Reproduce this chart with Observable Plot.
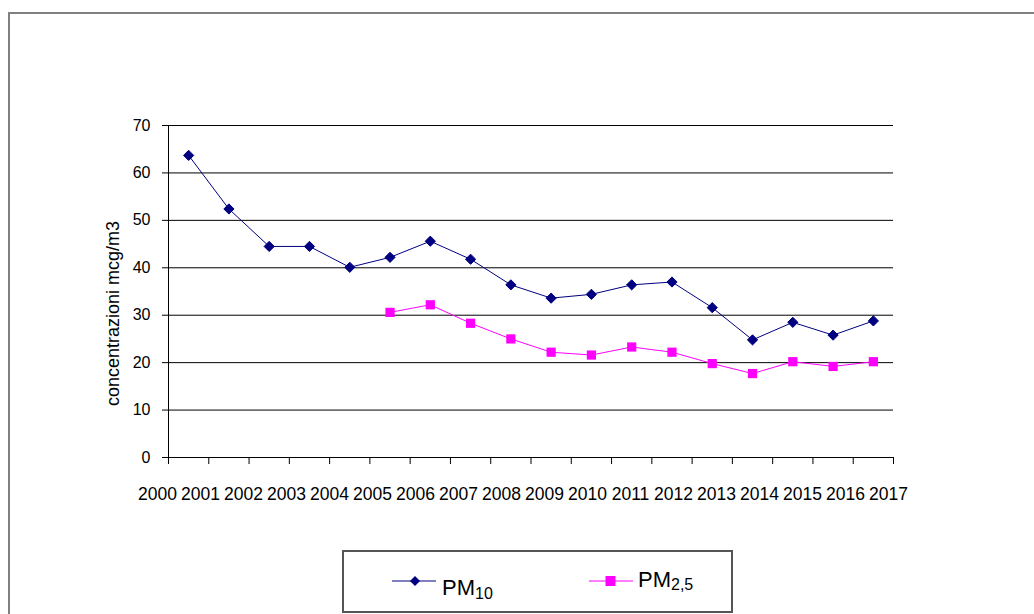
<!DOCTYPE html>
<html><head><meta charset="utf-8">
<script src="https://cdn.jsdelivr.net/npm/d3@7"></script>
<script src="https://cdn.jsdelivr.net/npm/@observablehq/plot@0.6"></script>
<style>
html,body{margin:0;padding:0;background:#fff;}
body{width:1034px;height:614px;overflow:hidden;position:relative;font-family:"Liberation Sans",Arial,sans-serif;}
#frame{position:absolute;left:8px;top:12px;width:1040px;height:620px;border:2px solid #808080;box-sizing:border-box;}
#chart,#xlabels,#legend{position:absolute;left:0;}
#chart{top:0px;}
#xlabels{top:479px;}
#legend{left:342px;top:550px;}
</style></head><body>
<div id="frame"></div>
<div id="chart"></div>
<div id="xlabels"></div>
<div id="legend"></div>
<script>
// ---- data ----
const years = [2000,2001,2002,2003,2004,2005,2006,2007,2008,2009,2010,2011,2012,2013,2014,2015,2016,2017];
const pm10  = [63.7,52.4,44.5,44.5,40.1,42.2,45.6,41.8,36.4,33.6,34.4,36.4,37.0,31.6,24.8,28.5,25.8,28.8];
const pm25  = [null,null,null,null,null,30.6,32.2,28.3,25.0,22.2,21.6,23.3,22.2,19.8,17.7,20.2,19.2,20.2];
const yTicks = [0,10,20,30,40,50,60,70];
const yLabel = "concentrazioni mcg/m3";
const seriesNames = ["PM10","PM2,5"];
const colors = {PM10:"#000080", "PM2,5":"#FF00FF"};

const rows10 = years.map((y,i)=>({year:y, value:pm10[i]}));
const rows25 = years.map((y,i)=>({year:y, value:pm25[i]})).filter(d=>d.value!=null);
const boundaries = years.map(y=>y-0.5).concat([years[years.length-1]+0.5]);

const font = '"Liberation Sans", Arial, sans-serif';

const chart = Plot.plot({
  width:1034, height:530,
  marginLeft:168, marginRight:141, marginTop:125, marginBottom:73,
  style:{background:"none", fontFamily:font, color:"#000"},
  x:{type:"linear", domain:[years[0]-0.5, years[years.length-1]+0.5]},
  y:{domain:[0,70]},
  marks:[
    Plot.gridY(yTicks, {stroke:"#000", strokeOpacity:1, strokeWidth:1}),
    Plot.ruleX([years[0]-0.5], {stroke:"#000", strokeWidth:1}),
    Plot.axisY({ticks:yTicks, tickSize:6, tickPadding:12, fontSize:16, label:null, stroke:"#000"}),
    Plot.axisX({ticks:boundaries, tickSize:7, tickFormat:()=>"", label:null, stroke:"#000"}),
    Plot.text([yLabel], {text:d=>d, frameAnchor:"left", textAnchor:"middle", rotate:-90, dx:-55, dy:22, fontSize:18, fill:"#000"}),
    Plot.line(rows10, {x:"year", y:"value", stroke:colors.PM10, strokeWidth:1}),
    Plot.dot(rows10, {x:"year", y:"value", symbol:"diamond2", r:4.6, fill:colors.PM10, stroke:colors.PM10, strokeWidth:1}),
    Plot.line(rows25, {x:"year", y:"value", stroke:colors["PM2,5"], strokeWidth:1}),
    Plot.dot(rows25, {x:"year", y:"value", symbol:"square", r:5.2, fill:colors["PM2,5"], stroke:"none"})
  ]
});
document.getElementById("chart").appendChild(chart);

const xl = Plot.plot({
  width:1034, height:30,
  marginLeft:156, marginRight:145, marginTop:0, marginBottom:0,
  style:{background:"none", fontFamily:font, color:"#000"},
  x:{type:"point", domain:years, padding:0, axis:null},
  marks:[
    Plot.text(years, {x:d=>d, text:d=>String(d), fontSize:17.5, fill:"#000"})
  ]
});
document.getElementById("xlabels").appendChild(xl);

// legend
const ns = "http://www.w3.org/2000/svg";
const lg = document.createElementNS(ns,"svg");
lg.setAttribute("width",392); lg.setAttribute("height",64);
lg.innerHTML = `
<rect x="1" y="1" width="389" height="61" fill="#fff" stroke="#555" stroke-width="2"/>
<line x1="50" x2="94" y1="31" y2="31" stroke="${colors.PM10}" stroke-width="1.2"/>
<path d="M73,26 L78,31 L73,36 L68,31 Z" fill="${colors.PM10}"/>
<text x="100" y="45" font-family='${font}' font-size="22" fill="#000">PM<tspan font-size="16" dy="4">10</tspan></text>
<line x1="247" x2="291" y1="31" y2="31" stroke="${colors["PM2,5"]}" stroke-width="1.2"/>
<rect x="263.5" y="26" width="10" height="10" fill="${colors["PM2,5"]}"/>
<text x="296" y="37" font-family='${font}' font-size="22" fill="#000">PM<tspan font-size="16" dy="3">2,5</tspan></text>
`;
document.getElementById("legend").appendChild(lg);
</script>
</body></html>
